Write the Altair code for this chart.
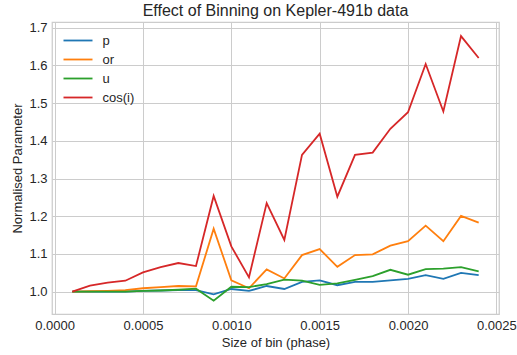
import altair as alt
import pandas as pd

# Bin sizes in phase units
bin_size = [0.0001, 0.0002, 0.0003, 0.0004, 0.0005, 0.0006, 0.0007, 0.0008,
            0.0009, 0.0010, 0.0011, 0.0012, 0.0013, 0.0014, 0.0015, 0.0016,
            0.0017, 0.0018, 0.0019, 0.0020, 0.0021, 0.0022, 0.0023, 0.0024]

# Fitted parameters normalised to the unbinned fit
p_vals = [1.000, 1.000, 1.000, 1.000, 1.002, 1.003, 1.004, 1.004,
          0.993, 1.007, 1.002, 1.015, 1.007, 1.026, 1.030, 1.017,
          1.026, 1.026, 1.030, 1.034, 1.044, 1.034, 1.050, 1.044]
or_vals = [1.000, 1.001, 1.002, 1.004, 1.009, 1.012, 1.015, 1.014,
           1.167, 1.030, 1.009, 1.059, 1.035, 1.097, 1.113, 1.066,
           1.097, 1.099, 1.122, 1.134, 1.175, 1.134, 1.201, 1.183]
u_vals = [1.000, 1.000, 1.000, 1.000, 1.002, 1.003, 1.005, 1.008,
          0.976, 1.013, 1.012, 1.020, 1.032, 1.029, 1.018, 1.022,
          1.031, 1.041, 1.058, 1.045, 1.060, 1.061, 1.065, 1.054]
cosi_vals = [1.000, 1.016, 1.024, 1.029, 1.051, 1.065, 1.076, 1.068,
             1.254, 1.120, 1.038, 1.235, 1.137, 1.363, 1.419, 1.252,
             1.363, 1.369, 1.432, 1.476, 1.604, 1.478, 1.678, 1.620]

names = ["p", "or", "u", "cos(i)"]
colors = ["#1f77b4", "#ff7f0e", "#2ca02c", "#d62728"]
series = [p_vals, or_vals, u_vals, cosi_vals]

x_ticks = [0.0, 0.0005, 0.0010, 0.0015, 0.0020, 0.0025]
y_ticks = [1.0, 1.1, 1.2, 1.3, 1.4, 1.5, 1.6, 1.7]

rows = []
for name, vals in zip(names, series):
    for order, (b, v) in enumerate(zip(bin_size, vals)):
        rows.append({"bin": b, "value": v, "param": name, "order": order})
df = pd.DataFrame(rows)

FONT = "Liberation Sans"
TEXT = "#262626"
GRID = "#cccccc"

# wide, flat line swatch for the legend
SWATCH = "M-2.9,0H2.9"

chart = alt.Chart(df).mark_line(strokeWidth=1.8).encode(
    x=alt.X("bin:Q",
            scale=alt.Scale(domain=[-0.000015, 0.002515], nice=False, zero=False),
            axis=alt.Axis(values=x_ticks, format=".4f", title="Size of bin (phase)")),
    y=alt.Y("value:Q",
            scale=alt.Scale(domain=[0.9407, 1.7154], nice=False, zero=False),
            axis=alt.Axis(values=y_ticks, format=".1f", title="Normalised Parameter")),
    color=alt.Color("param:N",
                    scale=alt.Scale(domain=names, range=colors),
                    sort=names,
                    legend=alt.Legend(title=None, orient="none", legendX=19.5, legendY=12,
                                      symbolType=SWATCH, symbolSize=100,
                                      symbolStrokeWidth=1.8, labelOffset=18,
                                      labelFont=FONT, labelFontSize=13,
                                      labelColor=TEXT, rowPadding=5, padding=0)),
    order="order:Q",
    detail="param:N",
).properties(
    width=447,
    height=292,
    title=alt.Title("Effect of Binning on Kepler-491b data", font=FONT, fontSize=16,
                    fontWeight="normal", color=TEXT, anchor="middle", offset=3),
    autosize=alt.AutoSizeParams(type="none"),
    padding={"left": 52, "top": 22, "right": 18, "bottom": 41},
).configure_view(
    stroke=GRID, strokeWidth=1.25
).configure_axis(
    grid=True, gridColor=GRID, gridWidth=1, domain=False, ticks=False,
    labelFont=FONT, labelFontSize=13, labelColor=TEXT, labelPadding=5,
    titleFont=FONT, titleFontSize=13, titleColor=TEXT, titleFontWeight="normal",
    titlePadding=4
)

chart.save("out.html", embed_options={"renderer": "svg", "actions": False})
